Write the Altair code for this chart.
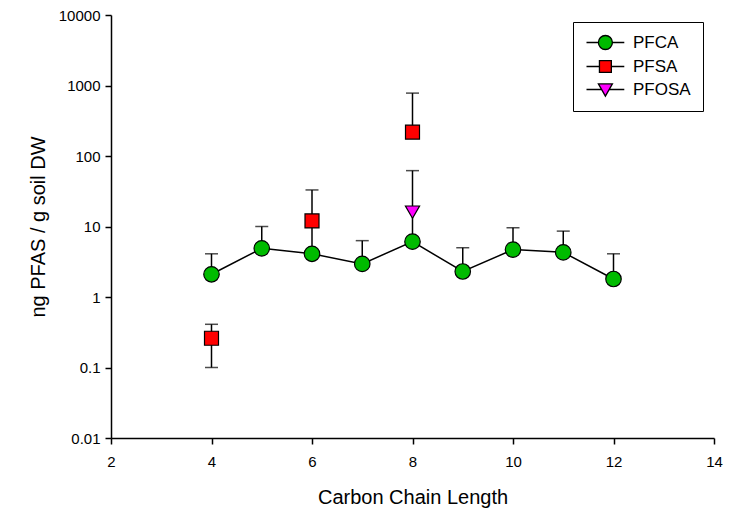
import altair as alt
import pandas as pd

# ---- data ----
series_names = ["PFCA", "PFSA", "PFOSA"]
series_colors = ["#00BB00", "#FF0000", "#FF00FF"]
series_shapes = ["circle", "square", "triangle-down"]
series_sizes = [240, 196, 200]

pfca_x = [4, 5, 6, 7, 8, 9, 10, 11, 12]
pfca_y = [2.1, 4.9, 4.1, 2.95, 6.1, 2.3, 4.7, 4.3, 1.8]
pfca_lo = [None, None, None, None, None, None, None, None, None]
pfca_hi = [4.1, 10.0, 11.0, 6.3, None, 5.0, 9.6, 8.6, 4.1]

pfsa_x = [4, 6, 8]
pfsa_y = [0.26, 12.0, 218.0]
pfsa_lo = [0.1, None, None]
pfsa_hi = [0.41, 33.0, 780.0]

pfosa_x = [8]
pfosa_y = [16.0]
pfosa_lo = [6.5]
pfosa_hi = [62.0]

x_ticks = [2, 4, 6, 8, 10, 12, 14]
y_ticks = [0.01, 0.1, 1, 10, 100, 1000, 10000]

# legend symbols: line + marker (custom SVG paths)
legend_paths = [
    "M-1,0H0.7M2.7,0H4.4M0.7,0A1,1,0,1,1,2.7,0A1,1,0,1,1,0.7,0Z",
    "M-1,0H0.85M2.55,0H4.4M0.85,-0.85H2.55V0.85H0.85Z",
    "M-1,0H1.16M2.24,0H4.4M0.7,-0.8H2.7L1.7,0.95Z",
]
legend_strokes = ["black", "black", "black"]

# ---- tables ----
rows = []
err_rows = []
for name, xs, ys, los, his in [
    ("PFCA", pfca_x, pfca_y, pfca_lo, pfca_hi),
    ("PFSA", pfsa_x, pfsa_y, pfsa_lo, pfsa_hi),
    ("PFOSA", pfosa_x, pfosa_y, pfosa_lo, pfosa_hi),
]:
    for xv, yv, lo, hi in zip(xs, ys, los, his):
        rows.append({"series": name, "x": xv, "y": yv})
        for b in (lo, hi):
            if b is not None:
                err_rows.append({"series": name, "x": xv, "y": yv, "bound": b})

df = pd.DataFrame(rows)
df_err = pd.DataFrame(err_rows)

FONT = "Arial, Liberation Sans, sans-serif"

x_enc = alt.X(
    "x:Q",
    scale=alt.Scale(domain=[2, 14], nice=False, zero=False),
    axis=alt.Axis(
        values=x_ticks, format="d", title="Carbon Chain Length",
        labelFlush=False, labelPadding=10, titlePadding=18,
    ),
)
y_enc = alt.Y(
    "y:Q",
    scale=alt.Scale(type="log", domain=[0.01, 10000], nice=False),
    axis=alt.Axis(
        values=y_ticks, format="~g", title="ng PFAS / g soil DW",
        labelFlush=False, labelPadding=5, titlePadding=10,
    ),
)

base = alt.Chart(df)

line = base.mark_line(color="black", strokeWidth=1.5).encode(
    x=x_enc, y=y_enc
).transform_filter(alt.datum.series == "PFCA")

rules = alt.Chart(df_err).mark_rule(color="black", strokeWidth=1.5).encode(
    x="x:Q", y="y:Q", y2="bound:Q"
)
caps = alt.Chart(df_err).mark_tick(
    orient="horizontal", color="black", size=13, thickness=1.5
).encode(x="x:Q", y="bound:Q")

point_layers = []
for name, color, shape, size in zip(series_names, series_colors, series_shapes, series_sizes):
    point_layers.append(
        base.mark_point(
            filled=True, fill=color, stroke="black", strokeWidth=1.2,
            opacity=1, shape=shape, size=size,
        ).encode(x="x:Q", y="y:Q").transform_filter(alt.datum.series == name)
    )

leg = alt.Legend(
    title=None, orient="none", legendX=462, legendY=7,
    padding=12, strokeColor="black", fillColor="white",
    labelFont=FONT, labelFontSize=17, labelColor="black",
    labelOffset=31, rowPadding=4, symbolSize=196,
    symbolStrokeColor="black", symbolStrokeWidth=1.3,
)
legend_layer = base.mark_point(filled=True, opacity=1, strokeWidth=1.3).encode(
    shape=alt.Shape("series:N", scale=alt.Scale(domain=series_names, range=legend_paths), legend=leg),
    fill=alt.Fill("series:N", scale=alt.Scale(domain=series_names, range=series_colors), legend=leg),
    stroke=alt.Stroke("series:N", scale=alt.Scale(domain=series_names, range=legend_strokes), legend=leg),
).transform_filter("false")

chart = alt.layer(line, rules, caps, *point_layers, legend_layer).properties(
    width=603, height=423,
    padding={"left": 111, "top": 15, "right": 16, "bottom": 73},
    autosize=alt.AutoSizeParams(type="none"),
    background="white",
).configure_view(stroke=None).configure_axis(
    grid=False, domainColor="black", domainWidth=1.5, tickColor="black",
    tickWidth=1.5, tickSize=6, labelColor="black", titleColor="black",
    labelFont=FONT, titleFont=FONT, labelFontSize=15, titleFontSize=20,
    titleFontWeight="normal",
)

chart.save("out.html", embed_options={"renderer": "svg", "actions": False})
